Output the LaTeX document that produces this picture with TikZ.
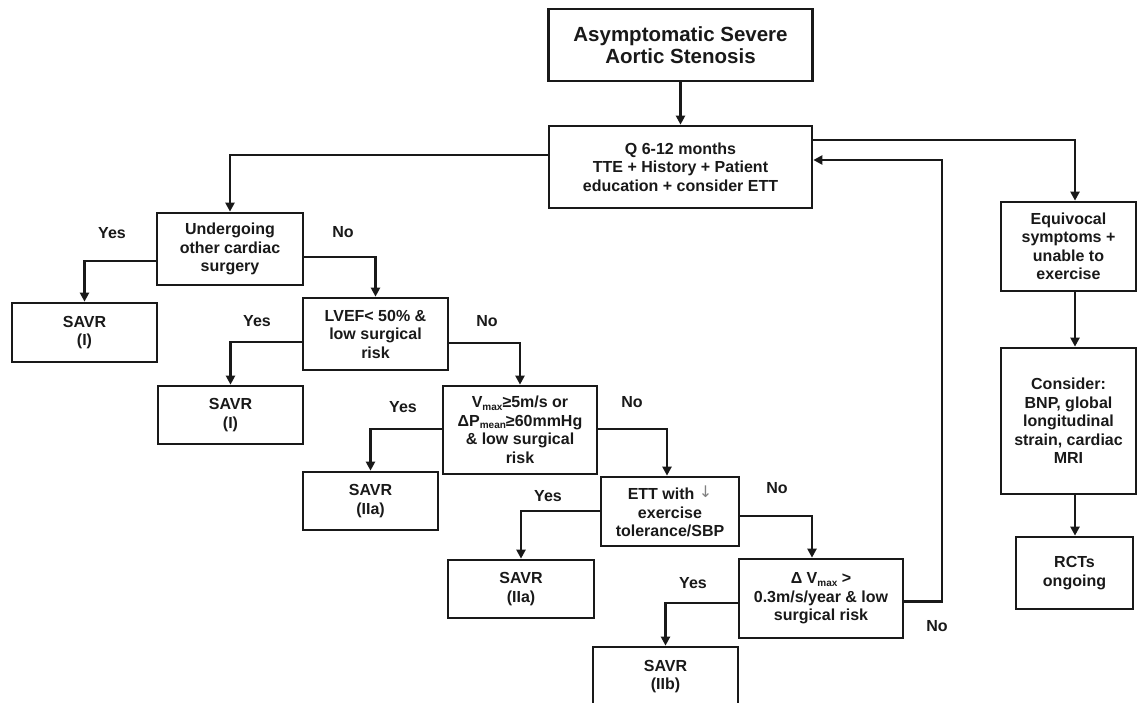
\documentclass[tikz,border=0pt]{standalone}
\usepackage{fontspec}
\setmainfont{Liberation Sans}
\newfontfamily\arrowfont{DejaVu Sans}
\usetikzlibrary{arrows.meta}
\definecolor{ink}{RGB}{25,25,25}
\newcommand{\sbs}[1]{\raisebox{-2.5pt}{\fontsize{10}{10}\selectfont #1}}
\tikzset{
  box/.style={draw=ink, line width=2.7pt, rectangle, inner sep=0pt, align=center,
    text=ink, font=\fontsize{16}{18.5}\selectfont\bfseries},
  lbl/.style={text=ink, font=\fontsize{16}{18.5}\selectfont\bfseries, inner sep=0pt},
  arr/.style={draw=ink, line width=2.2pt, -{Triangle[length=9pt,width=9pt]}},
}
\begin{document}
\begin{tikzpicture}[x=1pt,y=-1pt]
\useasboundingbox (0,0) rectangle (1137,703);
% boxes
\node[box, minimum width=264pt, minimum height=72pt, font=\fontsize{20.5}{22}\selectfont\bfseries] (top) at (680.5,45) {Asymptomatic Severe\\Aortic Stenosis};
\node[box, minimum width=263pt, minimum height=82pt] (Q) at (680.5,167) {Q 6-12 months\\TTE + History + Patient\\education + consider ETT};
\node[box, minimum width=146pt, minimum height=72pt] (Und) at (230,249) {Undergoing\\other cardiac\\surgery};
\node[box, minimum width=145pt, minimum height=59pt] (S1) at (84.5,332.5) {SAVR\\(I)};
\node[box, minimum width=145pt, minimum height=72pt] (LVEF) at (375.5,334) {LVEF< 50\% \&\\low surgical\\risk};
\node[box, minimum width=145pt, minimum height=58pt] (S2) at (230.5,415) {SAVR\\(I)};
\node[box, minimum width=154pt, minimum height=88pt] (Vmax) at (520,430) {V\sbs{max}≥5m/s or\\ΔP\sbs{mean}≥60mmHg\\\& low surgical\\risk};
\node[box, minimum width=135pt, minimum height=58pt] (S3) at (370.5,501) {SAVR\\(IIa)};
\node[box, minimum width=138pt, minimum height=69pt] (ETT) at (670,511.5) {ETT with {\color{gray}\mdseries\arrowfont\raisebox{2pt}{↓}}\\exercise\\tolerance/SBP};
\node[box, minimum width=146pt, minimum height=58pt] (S4) at (521,589) {SAVR\\(IIa)};
\node[box, minimum width=164pt, minimum height=79pt] (dV) at (821,598.5) {Δ V\sbs{max} >\\0.3m/s/year \& low\\surgical risk};
\node[box, minimum width=145pt, minimum height=59pt] (S5) at (665.5,676.5) {SAVR\\(IIb)};
\node[box, minimum width=135pt, minimum height=89pt] (Eq) at (1068.5,246.5) {Equivocal\\symptoms +\\unable to\\exercise};
\node[box, minimum width=135pt, minimum height=146pt] (Cons) at (1068.5,421) {Consider:\\BNP, global\\longitudinal\\strain, cardiac\\MRI};
\node[box, minimum width=117pt, minimum height=72pt] (RCT) at (1074.5,573) {RCTs\\ongoing};
% connectors
\draw[arr] (top.south) -- (Q.north);
\draw[arr] ([yshift=12pt]Q.west) -| (Und.north);
\draw[arr] ([yshift=27pt]Q.east) -| ([xshift=6.5pt]Eq.north);
\draw[arr] ([yshift=-12pt]Und.west) -| (S1.north);
\draw[arr] ([yshift=-8pt]Und.east) -| (LVEF.north);
\draw[arr] ([yshift=-8pt]LVEF.west) -| (S2.north);
\draw[arr] ([yshift=-9pt]LVEF.east) -| (Vmax.north);
\draw[arr] ([yshift=1pt]Vmax.west) -| (S3.north);
\draw[arr] ([yshift=1pt]Vmax.east) -| ([xshift=-3pt]ETT.north);
\draw[arr] ([yshift=0.5pt]ETT.west) -| (S4.north);
\draw[arr] ([yshift=-4.5pt]ETT.east) -| ([xshift=-9pt]dV.north);
\draw[arr] ([yshift=-4.5pt]dV.west) -| (S5.north);
\draw[arr] ([yshift=-3pt]dV.east) -- ++(38,0) |- ([yshift=7pt]Q.east);
\draw[arr] ([xshift=6.5pt]Eq.south) -- ([xshift=6.5pt]Cons.north);
\draw[arr] ([xshift=6.5pt]Cons.south) -- ([xshift=0.5pt]RCT.north);
% labels
\node[lbl] (y1) at (112,233) {Yes};
\node[lbl] (n1) at (343,232) {No};
\node[lbl] (y2) at (257,321) {Yes};
\node[lbl] (n2) at (487,321) {No};
\node[lbl] (y3) at (403,407) {Yes};
\node[lbl] (n3) at (632,402) {No};
\node[lbl] (y4) at (548,496) {Yes};
\node[lbl] (n4) at (777,488) {No};
\node[lbl] (y5) at (693,583) {Yes};
\node[lbl] (n5) at (937,626) {No};
\end{tikzpicture}
\end{document}
